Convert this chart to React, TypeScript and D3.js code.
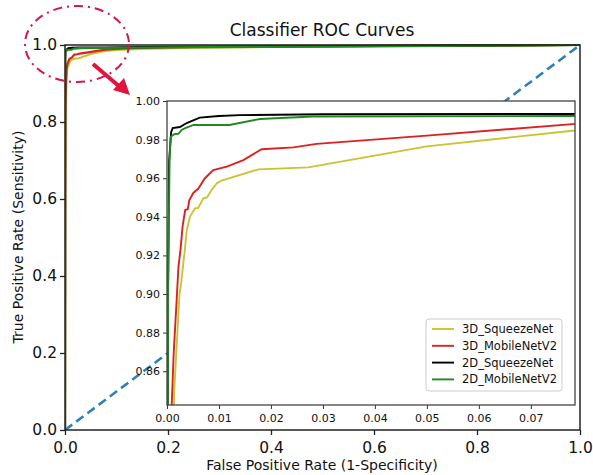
import React, { useEffect, useRef } from 'react';
import * as d3 from 'd3';

type Pt = [number, number];

// [fpr, tpr] points
const squeeze3d: Pt[] = [
  [0, 0], [0.0005, 0.6], [0.0012, 0.82], [0.0014, 0.85], [0.002, 0.88], [0.0024, 0.9],
  [0.0027, 0.905], [0.0031, 0.915], [0.0034, 0.922], [0.0038, 0.933], [0.0044, 0.94],
  [0.0054, 0.9444], [0.006, 0.9446], [0.007, 0.9496], [0.0077, 0.95], [0.0086, 0.954],
  [0.0096, 0.9574], [0.0105, 0.9588], [0.0176, 0.9646], [0.0272, 0.9656], [0.05, 0.9765],
  [0.078, 0.9846], [0.1, 0.987], [0.15, 0.99], [0.25, 0.993],
  [0.4, 0.995], [0.6, 0.997], [0.8, 0.998], [1, 1],
];
const mobile3d: Pt[] = [
  [0, 0], [0.0004, 0.6], [0.0008, 0.82], [0.0009, 0.842], [0.0013, 0.87], [0.0019, 0.899],
  [0.0022, 0.914], [0.0026, 0.923], [0.003, 0.935], [0.0035, 0.9435], [0.004, 0.944],
  [0.0043, 0.9487], [0.0051, 0.9525], [0.006, 0.9545], [0.0073, 0.96], [0.0089, 0.9642],
  [0.0115, 0.966], [0.0147, 0.9694], [0.0182, 0.975], [0.0243, 0.976], [0.0288, 0.9778],
  [0.0506, 0.9822], [0.078, 0.988], [0.1, 0.99], [0.15, 0.993],
  [0.25, 0.995], [0.4, 0.997], [0.6, 0.998], [0.8, 0.999], [1, 1],
];
const squeeze2d: Pt[] = [
  [0, 0], [0.0001, 0.6], [0.0002, 0.9], [0.0004, 0.9686], [0.0008, 0.984], [0.0011, 0.986],
  [0.0025, 0.9865], [0.0038, 0.9886], [0.0047, 0.9896], [0.0063, 0.9914], [0.01, 0.9922],
  [0.014, 0.9927], [0.03, 0.9931], [0.078, 0.9933], [0.2, 0.995], [0.5, 0.997], [1, 1],
];
const mobile2d: Pt[] = [
  [0, 0], [0.0001, 0.6], [0.0002, 0.9], [0.0005, 0.97], [0.0007, 0.9815], [0.0015, 0.9829],
  [0.0022, 0.983], [0.0028, 0.985], [0.0035, 0.9859], [0.0051, 0.9876], [0.012, 0.9876],
  [0.0179, 0.9907], [0.028, 0.992], [0.078, 0.9922], [0.2, 0.994], [0.5, 0.996], [1, 1],
];

const seriesNames = ['3D_SqueezeNet', '3D_MobileNetV2', '2D_SqueezeNet', '2D_MobileNetV2'];
const seriesData = [squeeze3d, mobile3d, squeeze2d, mobile2d];
const seriesColors = ['#c9c432', '#dd2020', '#000000', '#1f8a1f'];

const mainTicks = [0, 0.2, 0.4, 0.6, 0.8, 1.0];
const insetXTicks = [0, 0.01, 0.02, 0.03, 0.04, 0.05, 0.06, 0.07];
const insetYTicks = [0.86, 0.88, 0.9, 0.92, 0.94, 0.96, 0.98, 1.0];

const W = 593;
const H = 475;
const FONT = 'DejaVu Sans, sans-serif';

const App: React.FC = () => {
  const ref = useRef<SVGSVGElement | null>(null);

  useEffect(() => {
    if (ref.current) draw();
  }, []);

  const draw = () => {
    const svg = d3.select(ref.current);
    svg.selectAll('*').remove();

    // main axes
    const m = { left: 65, right: 580, top: 45, bottom: 430 };
    const x = d3.scaleLinear().domain([0, 1]).range([m.left, m.right]);
    const y = d3.scaleLinear().domain([0, 1]).range([m.bottom, m.top]);

    svg.append('rect').attr('width', W).attr('height', H).attr('fill', '#fff');

    const defs = svg.append('defs');
    defs.append('clipPath').attr('id', 'mainClip')
      .append('rect').attr('x', m.left).attr('y', m.top - 1)
      .attr('width', m.right - m.left).attr('height', m.bottom - m.top + 1);

    const line = d3.line<Pt>().x(d => x(d[0])).y(d => y(d[1]));

    const mainG = svg.append('g').attr('clip-path', 'url(#mainClip)');
    seriesData.forEach((s, i) => {
      mainG.append('path').datum(s).attr('d', line)
        .attr('fill', 'none').attr('stroke', seriesColors[i]).attr('stroke-width', 2.2);
    });
    mainG.append('path').datum([[0, 0], [1, 1]] as Pt[]).attr('d', line)
      .attr('fill', 'none').attr('stroke', '#2f80b9').attr('stroke-width', 2.6)
      .attr('stroke-dasharray', '9,5');

    const xAxis = svg.append('g').attr('transform', `translate(0,${m.bottom})`)
      .call(d3.axisBottom(x).tickValues(mainTicks).tickFormat(d3.format('.1f')).tickSizeOuter(0).tickSize(5));
    const yAxis = svg.append('g').attr('transform', `translate(${m.left},0)`)
      .call(d3.axisLeft(y).tickValues(mainTicks).tickFormat(d3.format('.1f')).tickSizeOuter(0).tickSize(5));
    [xAxis, yAxis].forEach(a => {
      a.select('.domain').remove();
      a.selectAll('line').attr('stroke', '#222').attr('stroke-width', 1.3);
      a.selectAll('text').attr('font-family', FONT).attr('font-size', 15.5).attr('fill', '#111');
    });
    xAxis.selectAll('text').attr('dy', '0.95em');

    svg.append('rect').attr('x', m.left).attr('y', m.top)
      .attr('width', m.right - m.left).attr('height', m.bottom - m.top)
      .attr('fill', 'none').attr('stroke', '#222').attr('stroke-width', 1.5);

    svg.append('text').attr('x', 322).attr('y', 36).attr('text-anchor', 'middle')
      .attr('font-family', FONT).attr('font-size', 17).attr('fill', '#111')
      .text('Classifier ROC Curves');
    svg.append('text').attr('x', 322).attr('y', 470).attr('text-anchor', 'middle')
      .attr('font-family', FONT).attr('font-size', 14).attr('fill', '#111')
      .text('False Positive Rate (1-Specificity)');
    svg.append('text').attr('transform', 'translate(23,237) rotate(-90)').attr('text-anchor', 'middle')
      .attr('font-family', FONT).attr('font-size', 14).attr('fill', '#111')
      .text('True Positive Rate (Sensitivity)');

    // inset axes
    const n = { left: 167, right: 575, top: 101, bottom: 405 };
    const xi = d3.scaleLinear().domain([0, 0.0785]).range([n.left, n.right]);
    const yi = d3.scaleLinear().domain([0.8425, 1]).range([n.bottom, n.top]);

    svg.append('rect').attr('x', n.left).attr('y', n.top)
      .attr('width', n.right - n.left).attr('height', n.bottom - n.top).attr('fill', '#fff');

    defs.append('clipPath').attr('id', 'insetClip')
      .append('rect').attr('x', n.left).attr('y', n.top)
      .attr('width', n.right - n.left).attr('height', n.bottom - n.top);

    const lineI = d3.line<Pt>().x(d => xi(d[0])).y(d => yi(d[1]));
    const insetG = svg.append('g').attr('clip-path', 'url(#insetClip)');
    seriesData.forEach((s, i) => {
      insetG.append('path').datum(s).attr('d', lineI)
        .attr('fill', 'none').attr('stroke', seriesColors[i]).attr('stroke-width', 1.9);
    });

    const xiAxis = svg.append('g').attr('transform', `translate(0,${n.bottom})`)
      .call(d3.axisBottom(xi).tickValues(insetXTicks).tickFormat(d3.format('.2f')).tickSizeOuter(0).tickSize(4));
    const yiAxis = svg.append('g').attr('transform', `translate(${n.left},0)`)
      .call(d3.axisLeft(yi).tickValues(insetYTicks).tickFormat(d3.format('.2f')).tickSizeOuter(0).tickSize(4));
    [xiAxis, yiAxis].forEach(a => {
      a.select('.domain').remove();
      a.selectAll('line').attr('stroke', '#333').attr('stroke-width', 1);
      a.selectAll('text').attr('font-family', FONT).attr('font-size', 11).attr('fill', '#111');
    });
    xiAxis.selectAll('text').attr('dy', '0.9em');

    svg.append('rect').attr('x', n.left).attr('y', n.top)
      .attr('width', n.right - n.left).attr('height', n.bottom - n.top)
      .attr('fill', 'none').attr('stroke', '#444').attr('stroke-width', 1.3);

    // legend
    const lg = svg.append('g').attr('transform', 'translate(426,319)');
    lg.append('rect').attr('width', 136).attr('height', 72).attr('rx', 3)
      .attr('fill', '#fff').attr('stroke', '#ccc').attr('stroke-width', 1);
    seriesNames.forEach((name, i) => {
      const yy = 10 + i * 16.8;
      lg.append('line').attr('x1', 6).attr('x2', 28).attr('y1', yy).attr('y2', yy)
        .attr('stroke', seriesColors[i]).attr('stroke-width', 1.9);
      lg.append('text').attr('x', 36).attr('y', yy).attr('dy', '0.35em')
        .attr('font-family', FONT).attr('font-size', 11.5).attr('fill', '#111').text(name);
    });

    // annotation: dash-dot ellipse and arrow
    svg.append('ellipse').attr('cx', 77).attr('cy', 44).attr('rx', 52).attr('ry', 38)
      .attr('fill', 'none').attr('stroke', '#d0164a').attr('stroke-width', 2)
      .attr('stroke-dasharray', '9,5,2,5');
    svg.append('line').attr('x1', 93).attr('y1', 64).attr('x2', 120).attr('y2', 87)
      .attr('stroke', '#e0143c').attr('stroke-width', 4);
    svg.append('path').attr('d', 'M130,95 L113,90 L124,78 Z').attr('fill', '#e0143c');
  };

  return (
    <svg ref={ref} width={W} height={H} style={{ position: 'absolute', left: 0, top: 0 }} />
  );
};

export default App;
